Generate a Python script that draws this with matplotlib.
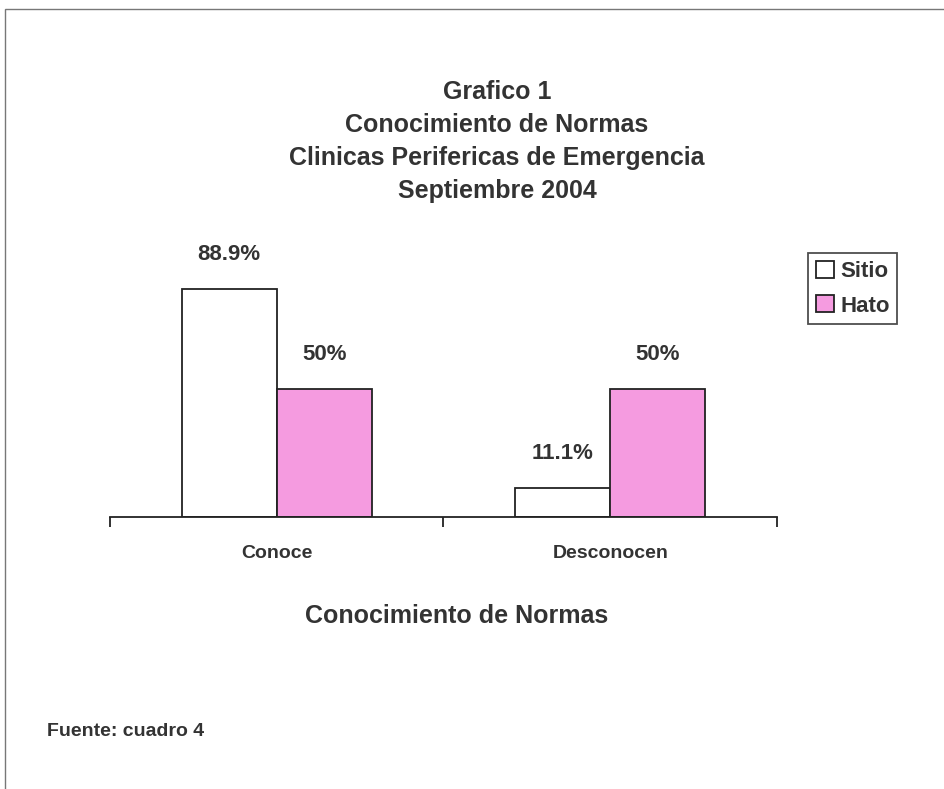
import matplotlib.pyplot as plt
import numpy as np
from matplotlib.patches import Rectangle

plt.rcParams['font.family'] = ['Liberation Sans', 'DejaVu Sans']

categories = ["Conoce", "Desconocen"]
series_names = ["Sitio", "Hato"]
sitio = [88.9, 11.1]
hato = [50, 50]
value_labels_sitio = ["88.9%", "11.1%"]
value_labels_hato = ["50%", "50%"]

text_color = "#333333"
pink = "#F59BE0"


def main():
    fig = plt.figure(figsize=(9.45, 7.89), dpi=100)

    # page border (scanned frame, only left and top visible)
    fig.patches.append(Rectangle((5 / 945, -0.2), 1.2, 1.2 - 9 / 789,
                                 transform=fig.transFigure, fill=False,
                                 edgecolor="#777777", linewidth=1.0))

    ax = fig.add_axes([110 / 945, 1 - 517 / 789, 667 / 945, 257 / 789])
    x = np.arange(len(categories))
    w = 0.285
    b1 = ax.bar(x - w / 2, sitio, w, color="white", edgecolor="#222222",
                linewidth=1.3, label=series_names[0])
    b2 = ax.bar(x + w / 2, hato, w, color=pink, edgecolor="#222222",
                linewidth=1.3, label=series_names[1])

    for bars, labels in ((b1, value_labels_sitio), (b2, value_labels_hato)):
        for rect, lab in zip(bars, labels):
            ax.annotate(lab, (rect.get_x() + rect.get_width() / 2, rect.get_height()),
                        xytext=(0, 24), textcoords="offset pixels",
                        ha="center", va="bottom", fontsize=16,
                        fontweight="bold", color=text_color)

    ax.set_xlim(-0.5, 1.5)
    ax.set_ylim(0, 100)
    for s in ("top", "right", "left"):
        ax.spines[s].set_visible(False)
    ax.spines["bottom"].set_linewidth(1.3)
    ax.spines["bottom"].set_color("#222222")
    ax.set_yticks([])
    ax.set_xticks(x)
    ax.set_xticklabels(categories, fontsize=14, fontweight="bold", color=text_color)
    ax.tick_params(axis="x", which="major", length=0, pad=20)
    ax.set_xticks([-0.5, 0.5, 1.5], minor=True)
    ax.tick_params(axis="x", which="minor", length=7, width=1.3, direction="out",
                   color="#222222")
    ax.set_xlabel("Conocimiento de Normas", fontsize=18, fontweight="bold",
                  color=text_color)
    ax.xaxis.set_label_coords(0.519, -0.34)

    titles = ["Grafico 1", "Conocimiento de Normas",
              "Clinicas Perifericas de Emergencia", "Septiembre 2004"]
    for i, t in enumerate(titles):
        fig.text(497 / 945, 1 - (92 + 33 * i) / 789, t, ha="center", va="center",
                 fontsize=18, fontweight="bold", color=text_color)

    leg = fig.legend(loc="upper left", bbox_to_anchor=(808 / 945, 1 - 253 / 789),
                     fontsize=16, frameon=True, fancybox=False,
                     handlelength=0.8, handleheight=0.8, handletextpad=0.3,
                     borderpad=0.35, labelspacing=0.6, borderaxespad=0)
    leg.get_frame().set_edgecolor("#222222")
    leg.get_frame().set_linewidth(1.3)
    for t in leg.get_texts():
        t.set_fontweight("bold")
        t.set_color(text_color)

    fig.text(47 / 945, 1 - 731 / 789, "Fuente: cuadro 4", ha="left", va="center",
             fontsize=14, fontweight="bold", color=text_color)

    plt.savefig("out.png", dpi=100)


if __name__ == '__main__':
    main()
